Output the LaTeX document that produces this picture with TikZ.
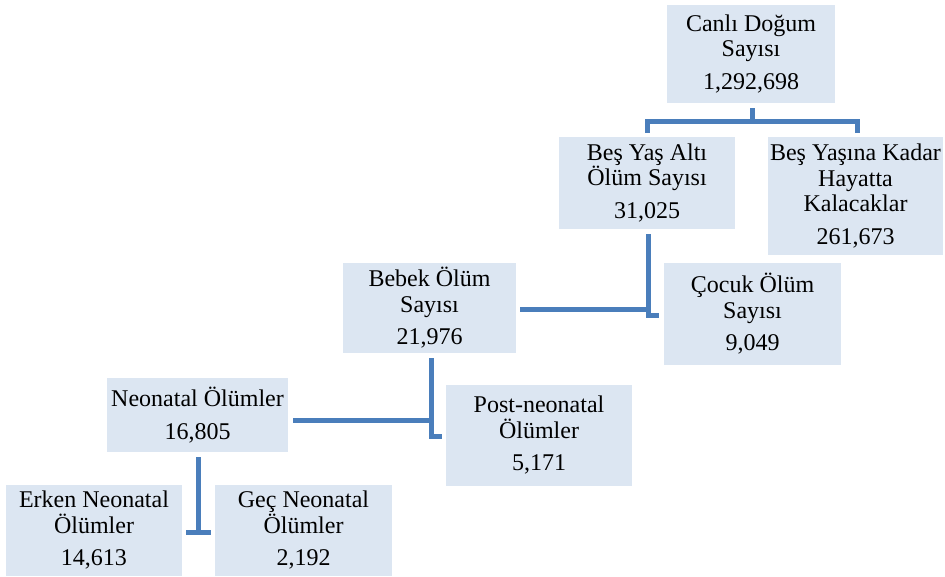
\documentclass[tikz,border=0pt]{standalone}
\usepackage{fontspec}
\setmainfont{Liberation Serif}
\definecolor{boxfill}{HTML}{DCE6F2}
\definecolor{linecol}{HTML}{4A7EBB}
\begin{document}
\begin{tikzpicture}[x=1pt,y=-1pt,
  box/.style={fill=boxfill, inner sep=0pt, align=center,
    font=\fontsize{24}{25.5}\selectfont},
  conn/.style={draw=linecol, line width=5pt}]
\useasboundingbox (0,0) rectangle (945,576);
% boxes
\node[box, minimum width=168pt, minimum height=98pt] (canli) at (751,54) {Canlı Doğum\\Sayısı\\[7pt]1,292,698};
\node[box, minimum width=176pt, minimum height=92pt] (besalti) at (647,183) {Beş Yaş Altı\\Ölüm Sayısı\\[7pt]31,025};
\node[box, minimum width=175pt, minimum height=118pt] (beskadar) at (855.5,196) {Beş Yaşına Kadar\\Hayatta\\Kalacaklar\\[7pt]261,673};
\node[box, minimum width=173pt, minimum height=90pt] (bebek) at (429.5,308) {Bebek Ölüm\\Sayısı\\[7pt]21,976};
\node[box, minimum width=177pt, minimum height=102pt] (cocuk) at (752.5,314) {Çocuk Ölüm\\Sayısı\\[7pt]9,049};
\node[box, minimum width=181pt, minimum height=74pt] (neo) at (197.5,415) {Neonatal Ölümler\\[7pt]16,805};
\node[box, minimum width=186pt, minimum height=101pt] (post) at (539,435.5) {Post-neonatal\\Ölümler\\[7pt]5,171};
\node[box, minimum width=176pt, minimum height=91pt] (erken) at (94,530.5) {Erken Neonatal\\Ölümler\\[7pt]14,613};
\node[box, minimum width=177pt, minimum height=91pt] (gec) at (303.5,530.5) {Geç Neonatal\\Ölümler\\[7pt]2,192};
% connectors
\coordinate (j1) at (752,121);
\draw[conn] ([yshift=-5pt]canli.south -| j1) -- (j1);
\draw[conn] ([yshift=4pt]besalti.north) |- (j1) -| ([yshift=4pt,xshift=1.5pt]beskadar.north);
\coordinate (k1) at (648,315);
\coordinate (k2) at (648,309);
\draw[conn] ([yshift=-5pt]besalti.south -| k1) -- (k1) -- ([xshift=-5pt]cocuk.west |- k1);
\draw[conn] ([xshift=4pt]bebek.east |- k2) -- (k2);
\coordinate (m1) at (431,436);
\coordinate (m2) at (431,420);
\draw[conn] ([yshift=-5pt]bebek.south -| m1) -- (m1) -- ([xshift=-4pt]post.west |- m1);
\draw[conn] ([xshift=5pt]neo.east |- m2) -- (m2);
\coordinate (n1) at (198,532);
\draw[conn] ([yshift=-5pt]neo.south -| n1) -- (n1);
\draw[conn] ([xshift=4pt]erken.east |- n1) -- ([xshift=-4pt]gec.west |- n1);
\end{tikzpicture}
\end{document}
